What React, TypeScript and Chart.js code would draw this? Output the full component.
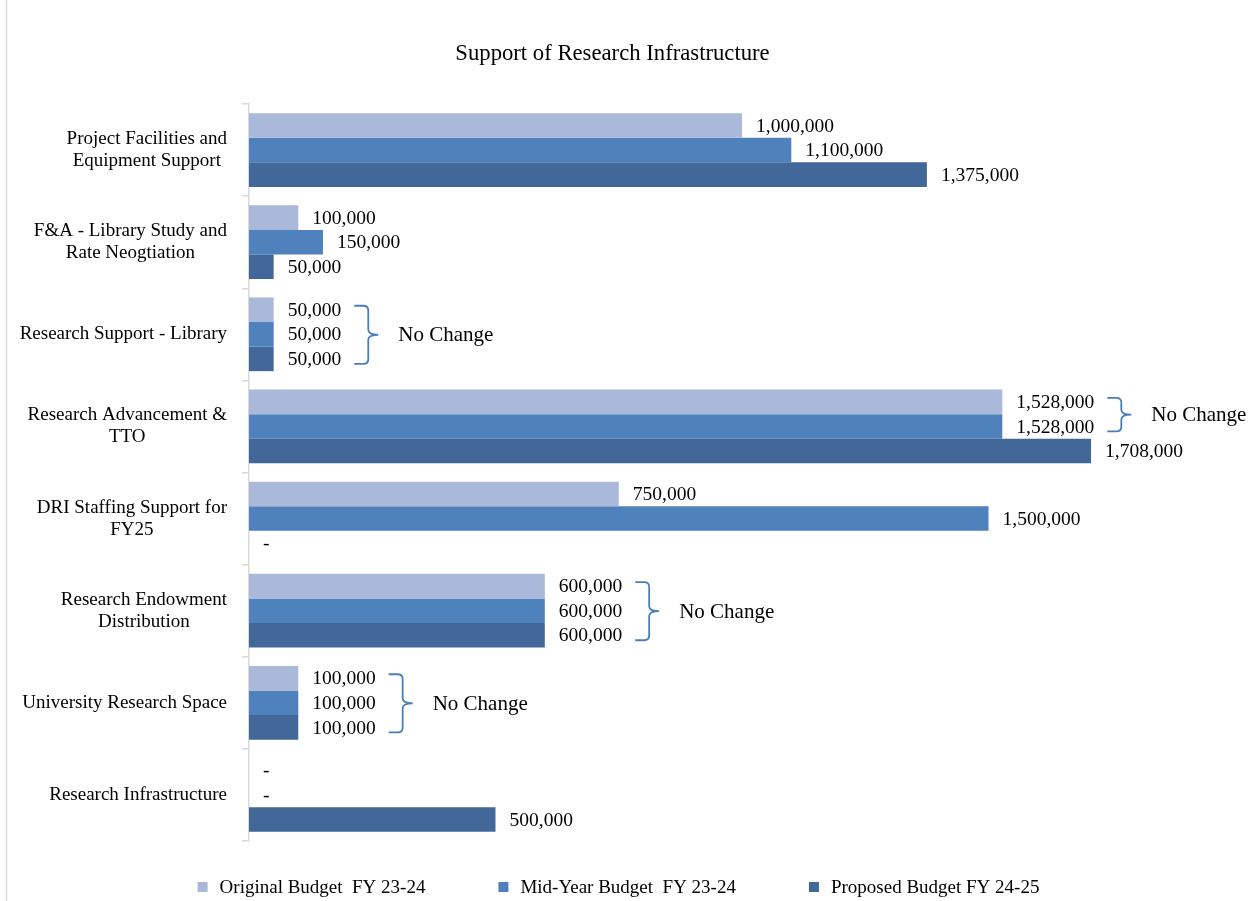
import React, { useEffect, useRef } from 'react';
import { Chart, registerables } from 'chart.js';

Chart.register(...registerables);

const chartTitle = 'Support of Research Infrastructure';

const categories: string[][] = [
  ['Project Facilities and', 'Equipment Support'],
  ['F&A - Library Study and', 'Rate Neogtiation'],
  ['Research Support - Library'],
  ['Research Advancement &', 'TTO'],
  ['DRI Staffing Support for', 'FY25'],
  ['Research Endowment', 'Distribution'],
  ['University Research Space'],
  ['Research Infrastructure'],
];

const seriesNames = ['Original Budget  FY 23-24', 'Mid-Year Budget  FY 23-24', 'Proposed Budget FY 24-25'];
const seriesColors = ['#aab9d9', '#4f81bd', '#416898'];

const originalBudget = [1000000, 100000, 50000, 1528000, 750000, 600000, 100000, 0];
const midYearBudget = [1100000, 150000, 50000, 1528000, 1500000, 600000, 100000, 0];
const proposedBudget = [1375000, 50000, 50000, 1708000, 0, 600000, 100000, 500000];

// "No Change" brace annotations: category index and number of bars (from the top) spanned
const noChangeCategories = [2, 3, 5, 6];
const noChangeBarCounts = [3, 2, 3, 3];
const noChangeText = 'No Change';

const xMin = 0;
const xMax = 2000000;

const SERIF = '"Liberation Serif", "Times New Roman", serif';

const fmt = (v: number) => (v ? v.toLocaleString('en-US') : '-');

const decorPlugin = {
  id: 'excelDecor',
  afterDraw(chart: any) {
    const ctx: CanvasRenderingContext2D = chart.ctx;
    const area = chart.chartArea;
    const yScale = chart.scales.y;
    ctx.save();

    // outer frame (left edge visible)
    ctx.strokeStyle = '#d9d9d9';
    ctx.lineWidth = 1.5;
    ctx.beginPath();
    ctx.moveTo(6.5, 0);
    ctx.lineTo(6.5, chart.height);
    ctx.stroke();

    // title
    ctx.fillStyle = '#000';
    ctx.font = `22.7px ${SERIF}`;
    ctx.textAlign = 'center';
    ctx.textBaseline = 'middle';
    ctx.fillText(chartTitle, chart.width / 2 - 16, 54);

    // category labels: block right-aligned, lines centered within block
    ctx.font = `19px ${SERIF}`;
    categories.forEach((lines, i) => {
      const yc = yScale.getPixelForValue(i);
      const w = Math.max(...lines.map((l) => ctx.measureText(l).width));
      const cx = area.left - 22 - w / 2;
      lines.forEach((l, j) => {
        ctx.fillText(l, cx, yc + (j - (lines.length - 1) / 2) * 22);
      });
    });

    // data labels
    ctx.font = `19.5px ${SERIF}`;
    ctx.textAlign = 'left';
    chart.data.datasets.forEach((ds: any, di: number) => {
      const meta = chart.getDatasetMeta(di);
      meta.data.forEach((bar: any, i: number) => {
        ctx.fillText(fmt(ds.data[i]), bar.x + 14, bar.y + 1);
      });
    });

    // braces + "No Change"
    noChangeCategories.forEach((c, gi) => {
      const n = noChangeBarCounts[gi];
      ctx.font = `19.5px ${SERIF}`;
      let maxEnd = 0;
      for (let d = 0; d < n; d++) {
        const bar = chart.getDatasetMeta(d).data[c];
        const w = ctx.measureText(fmt(chart.data.datasets[d].data[c])).width;
        maxEnd = Math.max(maxEnd, bar.x + 14 + w);
      }
      const top = chart.getDatasetMeta(0).data[c].y - 4;
      const bot = chart.getDatasetMeta(n - 1).data[c].y + 5;
      const mid = (top + bot) / 2;
      const x0 = maxEnd + 13;
      const xv = x0 + 14;
      const xt = xv + 10;
      const r = 5;
      ctx.strokeStyle = '#4a7ebb';
      ctx.lineWidth = 1.8;
      ctx.beginPath();
      ctx.moveTo(x0, top);
      ctx.lineTo(xv - r, top);
      ctx.quadraticCurveTo(xv, top, xv, top + r);
      ctx.lineTo(xv, mid - r);
      ctx.quadraticCurveTo(xv, mid, xt, mid);
      ctx.quadraticCurveTo(xv, mid, xv, mid + r);
      ctx.lineTo(xv, bot - r);
      ctx.quadraticCurveTo(xv, bot, xv - r, bot);
      ctx.lineTo(x0, bot);
      ctx.stroke();
      ctx.font = `21px ${SERIF}`;
      ctx.fillStyle = '#000';
      ctx.fillText(noChangeText, xt + 20, mid + 1);
    });

    // legend
    ctx.font = `19px ${SERIF}`;
    const itemWidths = seriesNames.map((s) => 10 + 12 + ctx.measureText(s).width);
    const gap = 73;
    const total = itemWidths.reduce((a, b) => a + b, 0) + gap * (seriesNames.length - 1);
    let x = chart.width / 2 - 10 - total / 2;
    const ly = 887;
    seriesNames.forEach((s, i) => {
      ctx.fillStyle = seriesColors[i];
      ctx.fillRect(x, ly - 5, 10, 10);
      ctx.fillStyle = '#000';
      ctx.fillText(s, x + 22, ly + 1);
      x += itemWidths[i] + gap;
    });

    ctx.restore();
  },
};

export default function App() {
  const ref = useRef<HTMLCanvasElement | null>(null);

  useEffect(() => {
    if (!ref.current) return;
    const chart = new Chart(ref.current, {
      type: 'bar',
      data: {
        labels: categories.map((c) => c.join(' ')),
        datasets: [
          { label: seriesNames[0], data: originalBudget, backgroundColor: seriesColors[0] },
          { label: seriesNames[1], data: midYearBudget, backgroundColor: seriesColors[1] },
          { label: seriesNames[2], data: proposedBudget, backgroundColor: seriesColors[2] },
        ],
      },
      options: {
        indexAxis: 'y',
        responsive: false,
        animation: false,
        categoryPercentage: 0.8,
        barPercentage: 1.0,
        layout: { padding: { top: 104, left: 242, right: 22, bottom: 60 } },
        plugins: {
          legend: { display: false },
          title: { display: false },
          tooltip: { enabled: false },
        },
        scales: {
          x: { display: false, min: xMin, max: xMax },
          y: {
            type: 'category',
            grid: {
              offset: true,
              drawOnChartArea: false,
              drawTicks: true,
              tickLength: 7,
              color: '#d9d9d9',
              lineWidth: 1.5,
            },
            border: { display: true, color: '#d9d9d9', width: 1.5 },
            ticks: { display: false },
          },
        },
      } as any,
      plugins: [decorPlugin],
    });
    return () => chart.destroy();
  }, []);

  return (
    <div style={{ position: 'absolute', left: 0, top: 0, width: 1257, height: 901, background: '#fff' }}>
      <canvas ref={ref} width={1257} height={901} />
    </div>
  );
}
